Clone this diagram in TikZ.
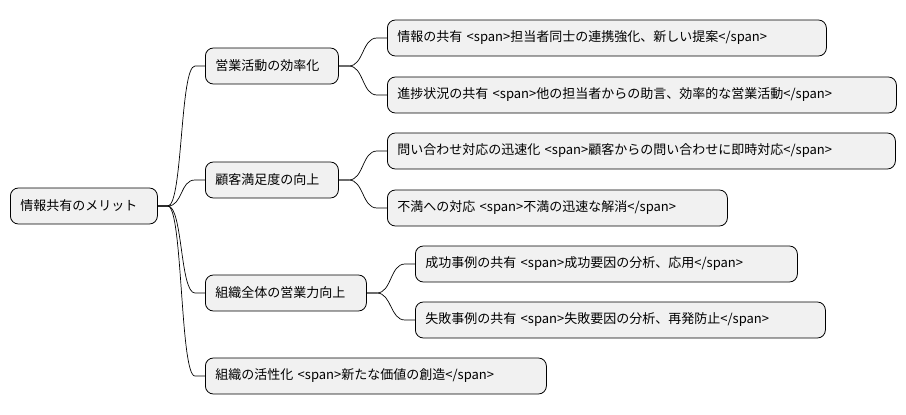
\documentclass[tikz,border=0pt]{standalone}
\usepackage{fontspec}
\usetikzlibrary{calc}
\setmainfont{Noto Sans CJK JP}
\begin{document}
\begin{tikzpicture}[x=1pt,y=-1pt,
  box/.style={draw=black,fill=black!5.5,rounded corners=8pt,line width=0.8pt,minimum height=36pt,inner xsep=10pt,anchor=west,align=left,font=\fontsize{13pt}{15pt}\selectfont},
  w/.style={text width=#1pt-20pt},
  con/.style={draw=black,line width=0.7pt}]
\useasboundingbox (0,0) rectangle (906,415);
\node[box,w=147] (r) at (10,206) {情報共有のメリット};
\node[box,w=133] (a) at (205,66) {営業活動の効率化};
\node[box,w=133] (b) at (205,180) {顧客満足度の向上};
\node[box,w=161] (c) at (205,293) {組織全体の営業力向上};
\node[box,w=341] (d) at (205,376) {組織の活性化 <span>新たな価値の創造</span>};
\node[box,w=439] (a1) at (387,38) {情報の共有 <span>担当者同士の連携強化、新しい提案</span>};
\node[box,w=509] (a2) at (387,95) {進捗状況の共有 <span>他の担当者からの助言、効率的な営業活動</span>};
\node[box,w=508] (b1) at (387,151) {問い合わせ対応の迅速化 <span>顧客からの問い合わせに即時対応</span>};
\node[box,w=340] (b2) at (387,208) {不満への対応 <span>不満の迅速な解消</span>};
\node[box,w=382] (c1) at (415,264) {成功事例の共有 <span>成功要因の分析、応用</span>};
\node[box,w=410] (c2) at (415,320) {失敗事例の共有 <span>失敗要因の分析、再発防止</span>};
\foreach \p/\c in {r/a,r/b,r/c,r/d,a/a1,a/a2,b/b1,b/b2,c/c1,c/c2}{
  \draw[con] (\p.east) -- ++(10,0) .. controls +(15,0) and ($(\c.west)+(-25,0)$) .. ($(\c.west)+(-10,0)$) -- (\c.west);
}
\end{tikzpicture}
\end{document}
